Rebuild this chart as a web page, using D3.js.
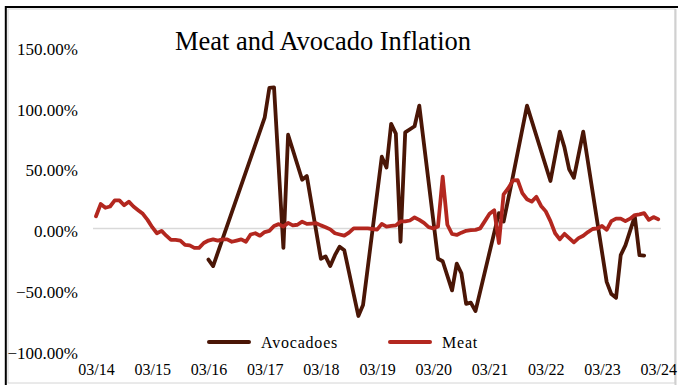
<!DOCTYPE html>
<html>
<head>
<meta charset="utf-8">
<script src="https://cdn.jsdelivr.net/npm/d3@7"></script>
<style>
  html, body { margin: 0; padding: 0; background: #fff; }
  svg { display: block; }
  text { font-family: "Liberation Serif", "Times New Roman", serif; fill: #000; }
</style>
</head>
<body>
<svg id="chart" width="678" height="385"></svg>
<script>
// ---- Data (monthly, index 0 = March 2014) ----
const tickLabels = ["03/14","03/15","03/16","03/17","03/18","03/19","03/20","03/21","03/22","03/23","03/24"];
const yTicks = [150, 100, 50, 0, -50, -100];

const meat = [
  10, 20, 17, 18, 23, 23, 19, 22, 18, 15, 12, 7,
  1, -4, -2, -6, -9.5, -9.5, -10, -13.5, -14, -16, -16, -12,
  -10, -9, -10, -9, -9, -11, -10, -9, -11, -5, -4, -6,
  -3, -2, 2, 3.5, 1.5, 4.5, 2.5, 3, 5.5, 3.7, 4, 4.3,
  2.5, 1, -0.8, -4, -5, -6, -3.5, 0, 0, 0, 0, -0.5,
  -1, 3.7, 1.5, 2, 2.5, 5.7, 5.7, 6.5, 9, 7, 4.5, 1,
  0, 1.5, 42.5, 3, -4.6, -5.4, -3.5, -2, -1.5, -1.2, 0, 6,
  12, 15, -12, 28, 33, 39.5, 39.7, 29, 24, 22, 26, 18.5,
  14, 6, -4, -9, -4.5, -8, -11.5, -8, -6, -3, -0.5, 0,
  2, -1.2, 6, 8, 8, 6, 8, 11, 11.5, 12.5, 7, 9.3, 7.6
];

const avocadoes = [
  null, null, null, null, null, null, null, null, null, null, null, null,
  null, null, null, null, null, null, null, null, null, null, null, null,
  -25.6, -31, null, null, null, null, null, null, null, null, null, null,
  91, 115.5, 116, null, -16, 77, null, null, 40, 43, null, null,
  -25, -23, -31, -22, -15, -18, -36, -54, -72, -63, null, null,
  null, 59, 50, 86, 78, -11, 79, null, 84, 101, null, null,
  null, -25, -27, null, -51, -29, -37, -62, -61, -68, null, null,
  null, null, 12.6, 5.6, null, 43, null, null, 101, null, null, null,
  null, 39, null, 79.5, 66.5, 48.5, 41.6, null, 79.5, null, null, null,
  null, -44, -54, -57, -22, -14, -2, 10, -22, -22.4, null, null, null
];

const seriesNames = ["Avocadoes", "Meat"];
const seriesColors = ["#4a1606", "#b3271f"];

// ---- Layout ----
const svg = d3.select("#chart");
const W = 678, H = 385;

const x = d3.scaleLinear().domain([0, 120]).range([96, 658.2]);
const y = d3.scaleLinear().domain([-100, 150]).range([350, 46]);

// Frame
svg.append("rect").attr("x", 0).attr("y", 0).attr("width", W).attr("height", H).attr("fill", "#fff");
svg.append("rect").attr("x", 8).attr("y", 9).attr("width", 667).attr("height", 374)
  .attr("fill", "none").attr("stroke", "#d4d4d4").attr("stroke-width", 1);
svg.append("line").attr("x1", 675.5).attr("x2", 675.5).attr("y1", 9).attr("y2", H)
  .attr("stroke", "#d0d0d0").attr("stroke-width", 2);
svg.append("line").attr("x1", 5).attr("x2", W).attr("y1", 7).attr("y2", 7)
  .attr("stroke", "#000").attr("stroke-width", 2);
svg.append("line").attr("x1", 5.8).attr("x2", 5.8).attr("y1", 6).attr("y2", H)
  .attr("stroke", "#000").attr("stroke-width", 2);

// Title
svg.append("text").attr("x", 323).attr("y", 50).attr("text-anchor", "middle")
  .style("font-size", "26.5px").text("Meat and Avocado Inflation");

// Zero gridline
svg.append("line").attr("x1", 93).attr("x2", 661).attr("y1", y(0)).attr("y2", y(0))
  .attr("stroke", "#d9d9d9").attr("stroke-width", 1.5);

// Y axis labels
const yAxis = d3.axisLeft(y).tickValues(yTicks).tickSize(0).tickPadding(0)
  .tickFormat(d => d3.format(".2f")(d) + "%");
const yg = svg.append("g").attr("transform", "translate(78,0)").call(yAxis);
yg.select(".domain").remove();
yg.selectAll("text").attr("x", 0).attr("dy", null).attr("y", 8.3)
  .style("font-size", "17px").style("font-family", "'Liberation Serif', serif").attr("fill", "#000");

// X axis labels
const xAxis = d3.axisBottom(x).tickValues(d3.range(0, 121, 12)).tickSize(0).tickPadding(0)
  .tickFormat((d, i) => tickLabels[i]);
const xg = svg.append("g").attr("transform", "translate(0,375)").call(xAxis);
xg.select(".domain").remove();
xg.selectAll("text").attr("y", 0).attr("dy", null)
  .style("font-size", "16px").style("font-family", "'Liberation Serif', serif").attr("fill", "#000");

// Lines
const line = d3.line().x(d => x(d.i)).y(d => y(d.v)).curve(d3.curveLinear);
const toPts = arr => arr.map((v, i) => ({ i, v })).filter(d => d.v !== null);

svg.append("path").datum(toPts(avocadoes)).attr("d", line)
  .attr("fill", "none").attr("stroke", seriesColors[0]).attr("stroke-width", 3.8)
  .attr("stroke-linejoin", "round").attr("stroke-linecap", "round");
svg.append("path").datum(toPts(meat)).attr("d", line)
  .attr("fill", "none").attr("stroke", seriesColors[1]).attr("stroke-width", 3.8)
  .attr("stroke-linejoin", "round").attr("stroke-linecap", "round");

// Legend
const legendX = [209, 390];
seriesNames.forEach((name, k) => {
  const g = svg.append("g").attr("transform", `translate(${legendX[k]},342)`);
  g.append("line").attr("x1", 0).attr("x2", 40).attr("y1", 0).attr("y2", 0)
    .attr("stroke", seriesColors[k]).attr("stroke-width", 4).attr("stroke-linecap", "round");
  g.append("text").attr("x", 52).attr("y", 6).style("font-size", "16px")
    .style("letter-spacing", "0.8px").text(name);
});
</script>
</body>
</html>
